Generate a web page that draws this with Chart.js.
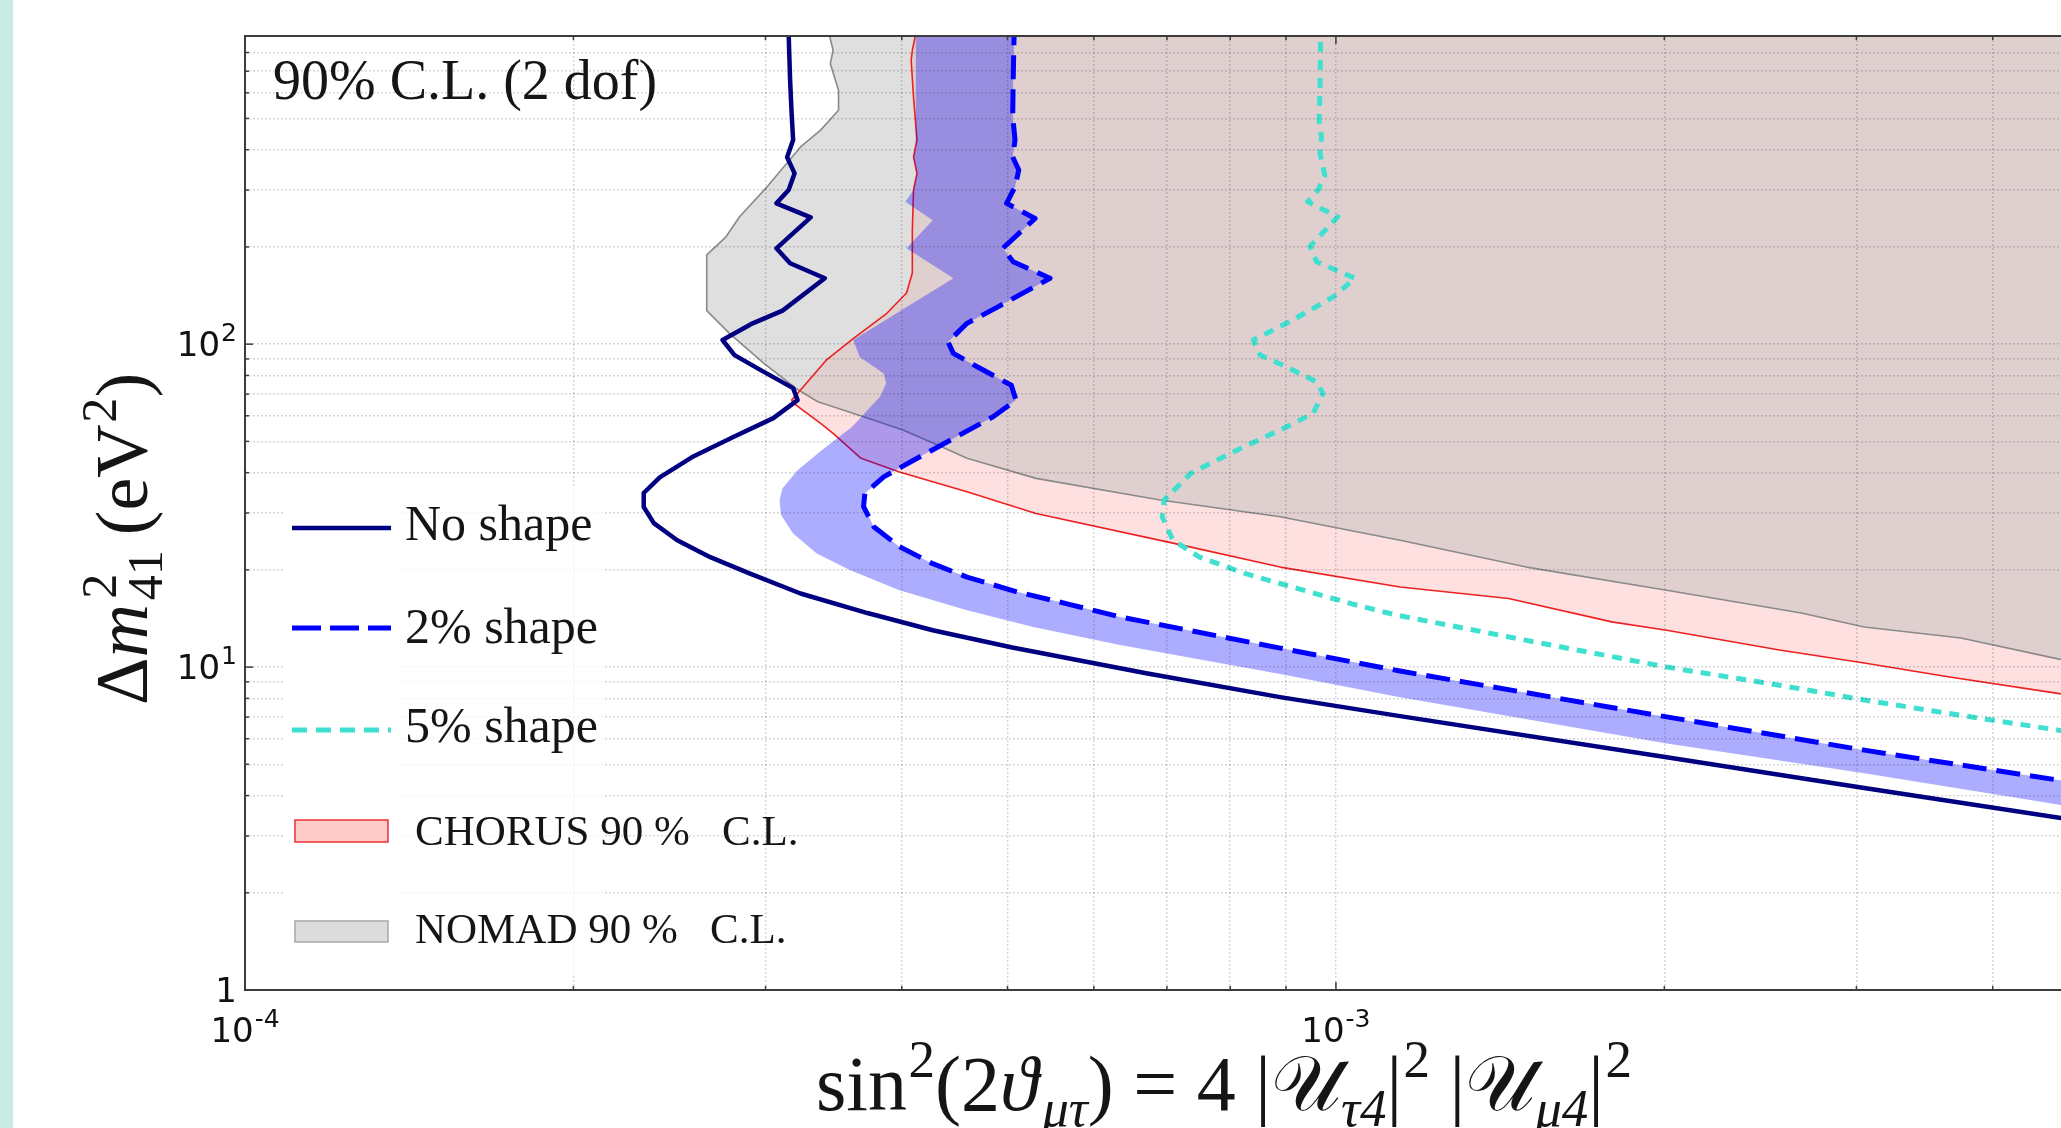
<!DOCTYPE html>
<html>
<head>
<meta charset="utf-8">
<title>Sterile neutrino sensitivity, 90% C.L.</title>
<script src="https://cdn.jsdelivr.net/npm/chart.js@4.4.1/dist/chart.umd.min.js"></script>
<style>
  html, body { margin: 0; padding: 0; }
  body { background: linear-gradient(to right, #c6ece5 0, #c6ece5 13px, #ffffff 13px); }
  canvas { display: block; }
</style>
</head>
<body>
<canvas id="contour" width="2061" height="1128"></canvas>
<script>
// axis ranges (the right part of the figure is cut off)
const xRange = [1e-4, 4.62e-3];
const yRange = [1, 900];

// "No shape" contour (sin^2 2theta, dm^2 in eV^2)
const noShapeX = [3.15e-4, 3.15e-4, 3.16e-4, 3.17e-4, 3.18e-4, 3.14e-4, 3.19e-4, 3.15e-4, 3.07e-4, 3.30e-4,
  3.07e-4, 3.16e-4, 3.40e-4, 3.11e-4, 2.92e-4, 2.74e-4, 2.81e-4, 2.97e-4, 3.18e-4, 3.21e-4,
  3.05e-4, 2.80e-4, 2.57e-4, 2.40e-4, 2.32e-4, 2.32e-4, 2.37e-4, 2.49e-4, 2.67e-4, 2.90e-4,
  3.23e-4, 3.72e-4, 4.27e-4, 5.05e-4, 6.70e-4, 8.89e-4, 1.145e-3, 2.01e-3, 3.05e-3, 4.62e-3, 7.65e-3];
const noShapeY = [1000, 918, 656, 519, 429, 379, 338, 300, 273, 247,
  198, 178, 160, 127, 116, 103, 92.5, 83.1, 73.1, 67.1,
  59.0, 51.5, 44.7, 38.7, 34.6, 31.3, 27.9, 24.7, 21.9, 19.5,
  16.9, 14.7, 13.0, 11.5, 9.57, 8.07, 7.05, 5.26, 4.22, 3.41, 2.62];

// "2% shape" contour (dashed), also the outer edge of the blue band
const shape2X = [5.07e-4, 5.07e-4, 5.06e-4, 5.055e-4, 5.08e-4, 5.055e-4, 5.12e-4, 5.08e-4, 4.99e-4, 5.30e-4,
  4.95e-4, 5.06e-4, 5.47e-4, 4.89e-4, 4.59e-4, 4.41e-4, 4.46e-4, 4.69e-4, 5.04e-4, 5.09e-4,
  4.85e-4, 4.43e-4, 4.10e-4, 3.85e-4, 3.70e-4, 3.69e-4, 3.77e-4, 3.98e-4, 4.27e-4, 4.59e-4,
  5.10e-4, 5.67e-4, 6.34e-4, 8.89e-4, 1.145e-3, 2.01e-3, 3.05e-3, 4.59e-3, 7.65e-3];
const shape2Y = [1000, 916, 656, 506, 429, 380, 346, 307, 273, 245,
  198, 180, 160, 130, 116, 101.6, 93.6, 85.1, 74.6, 67.1,
  59.6, 50.4, 43.7, 38.8, 34.5, 31.4, 27.2, 23.6, 20.9, 19.0,
  17.1, 15.7, 14.3, 11.45, 9.72, 7.01, 5.53, 4.47, 3.42];

// inner edge of the blue band
const band2InnerX = [4.12e-4, 4.12e-4, 4.10e-4, 4.13e-4, 4.10e-4, 4.03e-4, 4.27e-4, 4.04e-4, 4.46e-4, 3.61e-4,
  3.66e-4, 3.85e-4, 3.87e-4, 3.82e-4, 3.60e-4, 3.38e-4, 3.21e-4, 3.11e-4, 3.09e-4, 3.10e-4,
  3.18e-4, 3.34e-4, 3.58e-4, 3.98e-4, 4.59e-4, 5.28e-4, 6.34e-4, 8.89e-4, 1.145e-3,
  2.01e-3, 3.05e-3, 4.62e-3, 7.65e-3];
const band2InnerY = [1000, 408, 379, 338, 300, 276, 242, 198, 160, 103,
  91.3, 81.1, 75.5, 68.7, 55.4, 47.0, 40.7, 35.8, 32.9, 29.6,
  25.9, 22.5, 20.0, 17.3, 15.0, 13.3, 11.7, 9.51, 8.07,
  5.80, 4.69, 3.74, 2.93];

// "5% shape" contour (dotted)
const shape5X = [9.68e-4, 9.67e-4, 9.65e-4, 9.70e-4, 9.67e-4, 9.77e-4, 9.63e-4, 9.42e-4, 1.004e-3, 9.47e-4,
  9.60e-4, 1.041e-3, 9.94e-4, 9.14e-4, 8.40e-4, 8.52e-4, 9.01e-4, 9.60e-4, 9.73e-4, 9.53e-4,
  8.89e-4, 8.17e-4, 7.36e-4, 6.96e-4, 6.93e-4, 7.09e-4, 7.50e-4, 8.25e-4, 9.23e-4, 1.034e-3,
  1.135e-3, 1.495e-3, 2.01e-3, 2.55e-3, 3.05e-3, 3.64e-3, 4.59e-3, 7.65e-3];
const shape5Y = [863, 611, 494, 438, 389, 333, 300, 276, 248, 201,
  180, 160, 140, 119, 103, 92.5, 85.1, 76.4, 70.4, 61.0,
  54.2, 47.5, 39.8, 32.9, 29.2, 24.7, 21.9, 19.5, 17.5, 15.7,
  14.5, 12.1, 10.0, 8.79, 7.91, 7.19, 6.38, 4.83];

// CHORUS 90% C.L. exclusion boundary
const chorusX = [4.12e-4, 4.12e-4, 4.09e-4, 4.08e-4, 4.10e-4, 4.13e-4, 4.10e-4, 4.13e-4, 4.10e-4, 4.09e-4,
  4.09e-4, 4.04e-4, 3.87e-4, 3.61e-4, 3.41e-4, 3.23e-4, 3.17e-4, 3.20e-4, 3.37e-4, 3.46e-4,
  3.67e-4, 3.98e-4, 4.59e-4, 5.31e-4, 7.09e-4, 8.89e-4, 1.145e-3, 1.44e-3, 1.79e-3, 2.01e-3,
  2.55e-3, 3.05e-3, 3.64e-3, 4.59e-3, 7.65e-3];
const chorusY = [1000, 916, 813, 757, 583, 429, 380, 338, 300, 225,
  166, 144, 124, 104, 89.2, 72.1, 67.1, 64.7, 56.8, 52.9,
  44.3, 40.2, 34.9, 29.9, 24.2, 20.4, 17.7, 16.3, 13.8, 13.0,
  11.3, 10.3, 9.33, 8.29, 6.20];

// NOMAD 90% C.L. exclusion boundary
const nomadX = [3.43e-4, 3.43e-4, 3.46e-4, 3.44e-4, 3.50e-4, 3.50e-4, 3.37e-4, 3.23e-4, 3.01e-4, 2.84e-4,
  2.76e-4, 2.65e-4, 2.65e-4, 2.78e-4, 2.99e-4, 3.20e-4, 3.35e-4, 3.69e-4, 4.01e-4, 4.35e-4,
  4.59e-4, 5.31e-4, 6.90e-4, 8.89e-4, 1.145e-3, 1.495e-3, 2.01e-3, 2.67e-3, 3.05e-3, 3.74e-3,
  4.59e-3, 7.65e-3];
const nomadY = [1000, 916, 813, 739, 611, 530, 460, 408, 307, 248,
  215, 189, 127, 108, 87.2, 72.9, 66.3, 59.6, 54.2, 48.1,
  44.3, 38.4, 32.9, 29.2, 24.7, 20.4, 17.3, 14.7, 13.3, 12.3,
  10.6, 7.96];

const SERIF = "'Liberation Serif', 'DejaVu Serif', serif";
const SANS = "'DejaVu Sans', sans-serif";

const pts = (xs, ys) => xs.map((x, i) => ({x: x, y: ys[i]}));

// points far outside the axes, used to close the shaded regions
const FAR_LEFT = 1e-6, FAR_RIGHT = 1, FAR_TOP = 1e4;

function upperRightRegion(xs, ys) {
  const last = ys[ys.length - 1];
  return [{x: FAR_LEFT, y: FAR_TOP}, {x: xs[0], y: FAR_TOP}]
    .concat(pts(xs, ys))
    .concat([{x: FAR_RIGHT, y: last}, {x: FAR_RIGHT, y: FAR_TOP}]);
}

function bandRegion(inX, inY, outX, outY) {
  return [{x: FAR_LEFT, y: FAR_TOP}, {x: inX[0], y: FAR_TOP}]
    .concat(pts(inX, inY))
    .concat(pts(outX, outY).reverse())
    .concat([{x: outX[0], y: FAR_TOP}, {x: FAR_RIGHT, y: FAR_TOP}]);
}

function niceLog(v) {
  const e = Math.floor(Math.log10(v) + 1e-9);
  const m = v / Math.pow(10, e);
  return Math.abs(m - Math.round(m)) < 1e-6;
}
function isDecade(v) {
  const e = Math.log10(v);
  return Math.abs(e - Math.round(e)) < 1e-6;
}

function serifFont(size, italic) {
  return (italic ? 'italic ' : '') + size + 'px ' + SERIF;
}

// "10^n" tick label. anchor: 'right' or 'center'
function decadeLabel(ctx, v, x, y, anchor) {
  const n = Math.round(Math.log10(v));
  const base = n === 0 ? '1' : '10';
  const exp = n === 0 ? '' : String(n);
  ctx.font = '34px ' + SANS;
  const wb = ctx.measureText(base).width;
  ctx.font = '25px ' + SANS;
  const we = exp ? ctx.measureText(exp).width + 1 : 0;
  const w = wb + we;
  const x0 = anchor === 'right' ? x - w : x - w / 2;
  ctx.font = '34px ' + SANS;
  ctx.fillText(base, x0, y);
  if (exp) {
    ctx.font = '25px ' + SANS;
    ctx.fillText(exp, x0 + wb + 1, y - 15);
  }
}

// text with super/subscripts: parts = [{t, i, sup, sub, si}]
function rich(ctx, parts, x, y, size, draw) {
  let cx = x;
  const s = size * 0.68;
  for (const p of parts) {
    ctx.font = serifFont(size, p.i);
    if (draw) ctx.fillText(p.t, cx, y);
    cx += ctx.measureText(p.t).width + (p.i ? size * 0.05 : 0);
    let w = 0;
    if (p.sup) {
      ctx.font = serifFont(s, false);
      if (draw) ctx.fillText(p.sup, cx + size * 0.02, y - size * 0.42);
      w = Math.max(w, ctx.measureText(p.sup).width + size * 0.02);
    }
    if (p.sub) {
      ctx.font = serifFont(s, p.si);
      if (draw) ctx.fillText(p.sub, cx, y + size * 0.2);
      w = Math.max(w, ctx.measureText(p.sub).width);
    }
    cx += w;
  }
  return cx - x;
}

const xTitle = [
  {t: 'sin', sup: '2'}, {t: '(2'}, {t: '\u03d1', i: true, sub: '\u03bc\u03c4', si: true},
  {t: ') = 4 |'}, {t: '\ud835\udcb0', sub: '\u03c44', si: true}, {t: '|', sup: '2'},
  {t: ' |'}, {t: '\ud835\udcb0', sub: '\u03bc4', si: true}, {t: '|', sup: '2'}
];
const yTitle = [
  {t: '\u0394'}, {t: 'm', i: true, sup: '2', sub: '41'}, {t: '\u2009(eV', sup: '2'}, {t: ')'}
];

function strokeLine(ctx, x1, y1, x2, y2) {
  ctx.beginPath(); ctx.moveTo(x1, y1); ctx.lineTo(x2, y2); ctx.stroke();
}

const decor = {
  id: 'decor',
  afterDraw(chart) {
    const {ctx, chartArea: a, scales: {x, y}} = chart;
    ctx.save();

    // frame and inward ticks
    ctx.strokeStyle = '#3c3c3c';
    ctx.lineWidth = 2;
    strokeLine(ctx, a.left, a.top, a.right, a.top);
    strokeLine(ctx, a.left, a.top - 1, a.left, a.bottom + 1);
    strokeLine(ctx, a.left - 1, a.bottom, a.right, a.bottom);
    ctx.lineWidth = 1.5;
    x.ticks.forEach(t => {
      const px = x.getPixelForValue(t.value);
      const len = isDecade(t.value) ? 8 : 4;
      strokeLine(ctx, px, a.bottom, px, a.bottom - len);
      strokeLine(ctx, px, a.top, px, a.top + len);
    });
    y.ticks.forEach(t => {
      const py = y.getPixelForValue(t.value);
      const len = isDecade(t.value) ? 8 : 4;
      strokeLine(ctx, a.left, py, a.left + len, py);
    });

    // decade tick labels
    ctx.fillStyle = '#111';
    ctx.textAlign = 'left';
    ctx.textBaseline = 'alphabetic';
    x.ticks.filter(t => isDecade(t.value)).forEach(t => {
      decadeLabel(ctx, t.value, x.getPixelForValue(t.value), a.bottom + 52, 'center');
    });
    y.ticks.filter(t => isDecade(t.value)).forEach(t => {
      decadeLabel(ctx, t.value, a.left - 8, y.getPixelForValue(t.value) + 12, 'right');
    });

    // legend
    ctx.fillStyle = 'rgba(255,255,255,0.75)';
    ctx.fillRect(283, 488, 320, 487);
    ctx.fillStyle = '#ffffff';
    ctx.fillRect(283, 488, 116, 487);

    const lx1 = 292, lx2 = 391;
    ctx.lineCap = 'butt';
    ctx.strokeStyle = '#000080'; ctx.lineWidth = 4.5; ctx.setLineDash([]);
    strokeLine(ctx, lx1, 528, lx2, 528);
    ctx.strokeStyle = '#0000ff'; ctx.lineWidth = 5; ctx.setLineDash([29, 9]);
    strokeLine(ctx, lx1, 628, lx2, 628);
    ctx.strokeStyle = '#40e0d0'; ctx.lineWidth = 5; ctx.setLineDash([15, 9]);
    strokeLine(ctx, lx1, 730, lx2, 730);
    ctx.setLineDash([]);

    ctx.lineWidth = 1.5;
    ctx.fillStyle = '#ffcaca'; ctx.strokeStyle = '#ee3030';
    ctx.fillRect(295, 820, 93, 22); ctx.strokeRect(295, 820, 93, 22);
    ctx.fillStyle = '#dcdcdc'; ctx.strokeStyle = '#a8a8a8';
    ctx.fillRect(295, 921, 93, 21); ctx.strokeRect(295, 921, 93, 21);

    ctx.fillStyle = '#151515';
    ctx.font = serifFont(50, false);
    ctx.fillText('No shape', 405, 540);
    ctx.fillText('2% shape', 405, 643);
    ctx.fillText('5% shape', 405, 742);
    ctx.font = serifFont(43, false);
    ctx.fillText('CHORUS 90 %   C.L.', 415, 845);
    ctx.fillText('NOMAD 90 %   C.L.', 415, 943);

    // annotation
    ctx.font = serifFont(56, false);
    ctx.fillText('90% C.L. (2 dof)', 273, 99);

    // axis titles
    const xs = 78;
    const xw = rich(ctx, xTitle, 0, 0, xs, false);
    rich(ctx, xTitle, 1224 - xw / 2, 1110, xs, true);

    const ys = 74;
    ctx.translate(147, 539);
    ctx.rotate(-Math.PI / 2);
    const yw = rich(ctx, yTitle, 0, 0, ys, false);
    rich(ctx, yTitle, -yw / 2, 0, ys, true);

    ctx.restore();
  }
};

const lineDefaults = {showLine: true, pointRadius: 0, pointHoverRadius: 0, borderJoinStyle: 'round'};

new Chart(document.getElementById('contour'), {
  type: 'scatter',
  data: {
    datasets: [
      Object.assign({}, lineDefaults, {
        label: 'CHORUS 90 % C.L.', data: upperRightRegion(chorusX, chorusY), order: 10,
        fill: 'shape', backgroundColor: 'rgba(255,0,0,0.12)', borderColor: 'transparent', borderWidth: 0
      }),
      Object.assign({}, lineDefaults, {
        label: 'NOMAD 90 % C.L.', data: upperRightRegion(nomadX, nomadY), order: 9,
        fill: 'shape', backgroundColor: 'rgba(189,189,189,0.48)', borderColor: '#8a8a8a', borderWidth: 1.6
      }),
      Object.assign({}, lineDefaults, {
        label: 'CHORUS boundary', data: pts(chorusX, chorusY), order: 8,
        fill: false, borderColor: '#ee2020', borderWidth: 1.6
      }),
      Object.assign({}, lineDefaults, {
        label: '2% band', data: bandRegion(band2InnerX, band2InnerY, shape2X, shape2Y), order: 7,
        fill: 'shape', backgroundColor: 'rgba(0,0,255,0.32)', borderColor: 'transparent', borderWidth: 0
      }),
      Object.assign({}, lineDefaults, {
        label: '5% shape', data: pts(shape5X, shape5Y), order: 6,
        fill: false, borderColor: '#40e0d0', borderWidth: 5, borderDash: [10, 8]
      }),
      Object.assign({}, lineDefaults, {
        label: '2% shape', data: pts(shape2X, shape2Y), order: 5,
        fill: false, borderColor: '#0000ff', borderWidth: 5, borderDash: [24, 10]
      }),
      Object.assign({}, lineDefaults, {
        label: 'No shape', data: pts(noShapeX, noShapeY), order: 4,
        fill: false, borderColor: '#000080', borderWidth: 4.5
      })
    ]
  },
  options: {
    responsive: false,
    animation: false,
    devicePixelRatio: 1,
    events: [],
    layout: {padding: {top: 36, left: 0, right: 0, bottom: 0}},
    plugins: {legend: {display: false}, tooltip: {enabled: false}},
    scales: {
      x: {
        type: 'logarithmic', position: 'bottom', min: xRange[0], max: xRange[1],
        afterFit: (s) => { s.height = 138; },
        afterBuildTicks: (s) => { s.ticks = s.ticks.filter(t => niceLog(t.value)); },
        grid: {color: 'rgba(0,0,0,0.16)', lineWidth: 1.5, drawTicks: false, z: 1},
        border: {display: false, dash: [2, 2]},
        ticks: {display: false, autoSkip: false}
      },
      y: {
        type: 'logarithmic', position: 'left', min: yRange[0], max: yRange[1],
        afterFit: (s) => { s.width = 245; },
        afterBuildTicks: (s) => { s.ticks = s.ticks.filter(t => niceLog(t.value)); },
        grid: {color: 'rgba(0,0,0,0.16)', lineWidth: 1.5, drawTicks: false, z: 1},
        border: {display: false, dash: [2, 2]},
        ticks: {display: false, autoSkip: false}
      }
    }
  },
  plugins: [decor]
});
</script>
</body>
</html>
